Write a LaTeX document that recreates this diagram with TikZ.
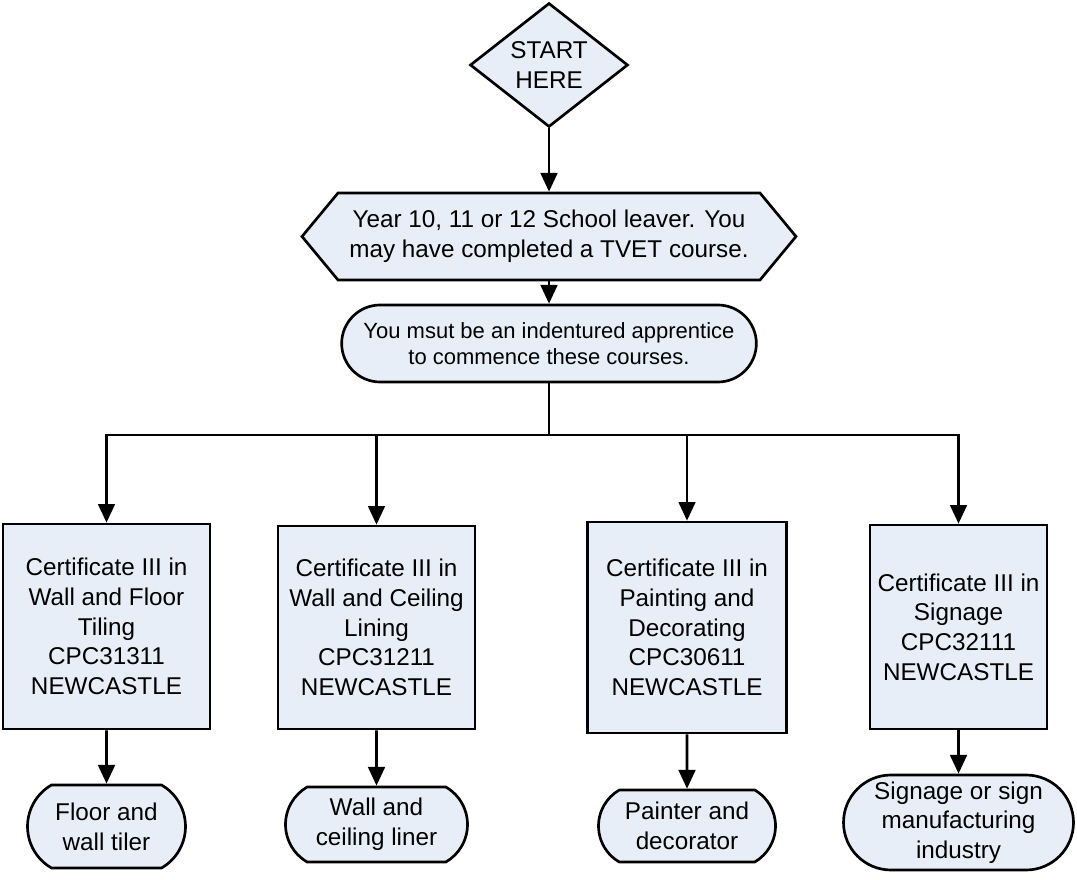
\documentclass[tikz,border=0pt]{standalone}
\usepackage{fontspec}
\setmainfont{Liberation Sans}
\usetikzlibrary{shapes.geometric,shapes.misc,arrows.meta}
\definecolor{boxfill}{RGB}{232,238,247}

\begin{document}
\begin{tikzpicture}[x={(0.75pt,0pt)}, y={(0pt,-0.75pt)}]
  \tikzstyle{txt}=[align=center, inner sep=0pt, font=\fontsize{18.2pt}{22.3pt}\selectfont]
  \tikzstyle{outline}=[draw, fill=boxfill, line width=2pt]
  \tikzstyle{cert}=[outline, txt, rectangle]
  \tikzstyle{term}=[outline, txt, rounded rectangle, rounded rectangle arc length=120]
  \tikzstyle{arrow}=[line width=2pt, -{Triangle[length=14pt, width=12.5pt]}]

\useasboundingbox (0,0) rectangle (1077,880);

\node[outline, txt, diamond, aspect=1.27, minimum width=118.5pt, minimum height=93pt] (start) at (549, 65) {START\\HERE};

\draw[outline] (302,236.5) -- (338,193) -- (760,193) -- (796,236.5) -- (760,280) -- (338,280) -- cycle;
\node[txt, outer sep=1pt, minimum width=316.5pt, minimum height=65.25pt] (school) at (549, 236.5) {Year 10, 11 or 12 School leaver. You\\may have completed a TVET course.};
\draw[arrow] (start) -- (school);

\node[term, rounded rectangle arc length=180, minimum width=311pt, minimum height=57.75pt,
  label={[txt, font=\fontsize{16.5pt}{19pt}\selectfont]center:You msut be an indentured apprentice\\to commence these courses.}] (must) at (549, 343.5) {};
\draw[arrow] (school) -- (must);

\coordinate (split) at (549, 435);
\draw[line width=2pt] (must) -- (split);

\node[cert, minimum width=155.25pt, minimum height=153.75pt] (c1) at (106.5, 626.5) {Certificate III in\\Wall and Floor\\Tiling\\CPC31311\\NEWCASTLE};
\draw[arrow] (split) -| (c1);

\node[cert, minimum width=147.75pt, minimum height=152.25pt] (c2) at (376.5, 627.5) {Certificate III in\\Wall and Ceiling\\Lining\\CPC31211\\NEWCASTLE};
\draw[arrow] (split) -| (c2);

\node[cert, minimum width=149.25pt, minimum height=158.25pt] (c3) at (687, 627.5) {Certificate III in\\Painting and\\Decorating\\CPC30611\\NEWCASTLE};
\draw[arrow] (split) -| (c3);

\node[cert, minimum width=132.75pt, minimum height=153pt] (c4) at (958.5, 627) {Certificate III in\\Signage\\CPC32111\\NEWCASTLE};
\draw[arrow] (split) -| (c4);

\node[term, minimum width=118.5pt, minimum height=62.25pt] (j1) at (106.5, 826.5) {Floor and\\wall tiler};
\draw[arrow] (c1) -- (j1);

\node[term, minimum width=136.5pt, minimum height=56.25pt] (j2) at (376.5, 824.5) {Wall and\\ceiling liner};
\draw[arrow] (c2) -- (j2);

\node[term, minimum width=132.75pt, minimum height=54pt] (j3) at (687, 826) {Painter and\\decorator};
\draw[arrow] (c3) -- (j3);

\node[term, rounded rectangle arc length=180, minimum width=172.5pt, minimum height=71.25pt,
  label={[txt]center:Signage or sign\\manufacturing\\industry}] (j4) at (958.5, 822.5) {};
\draw[arrow] (c4) -- (j4);

\end{tikzpicture}
\end{document}
